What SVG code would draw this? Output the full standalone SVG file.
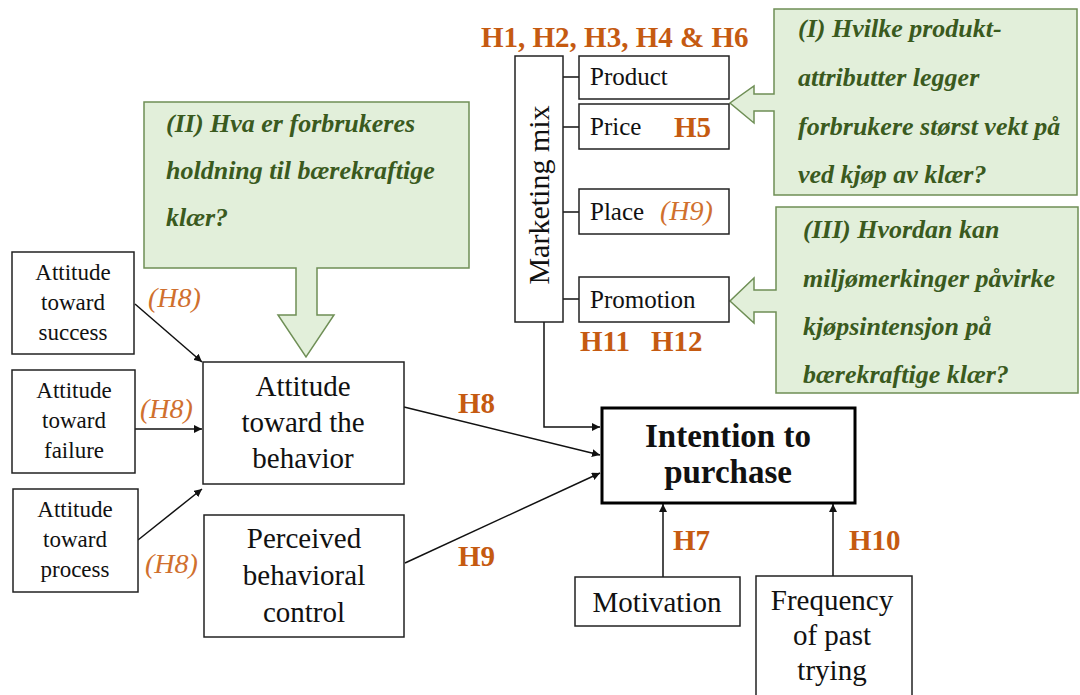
<svg xmlns="http://www.w3.org/2000/svg" width="1080" height="695" viewBox="0 0 1080 695">
<defs>
<marker id="ah" viewBox="0 0 10 10" refX="10" refY="5" markerWidth="8" markerHeight="8" markerUnits="userSpaceOnUse" orient="auto">
<path d="M0,0 L10,5 L0,10 z" fill="#111"/>
</marker>
</defs>
<style>
.box{fill:#fff;stroke:#222;stroke-width:1.5}
.green{fill:#E2EFDA;stroke:#6F8F56;stroke-width:1.5}
.t{font-family:"Liberation Serif","Times New Roman",serif;fill:#111}
.c{text-anchor:middle}
.q{font-family:"Liberation Serif","Times New Roman",serif;font-weight:bold;font-style:italic;font-size:26px;fill:#3A5A1E}
.hb{font-family:"Liberation Serif","Times New Roman",serif;font-weight:bold;font-size:29px;fill:#C55A11}
.hi{font-family:"Liberation Serif","Times New Roman",serif;font-style:italic;font-size:28px;fill:#D0702E}
.ln{stroke:#111;stroke-width:1.5;fill:none}
.arr{stroke:#111;stroke-width:1.5;fill:none;marker-end:url(#ah)}
</style>

<g id="connectors">
<line class="ln" x1="563" y1="77" x2="579" y2="77"/>
<line class="ln" x1="563" y1="127" x2="579" y2="127"/>
<line class="ln" x1="563" y1="212" x2="579" y2="212"/>
<line class="ln" x1="563" y1="299" x2="579" y2="299"/>
<polyline class="arr" points="544,322 544,427 600,427"/>
<line class="arr" x1="135" y1="304" x2="202" y2="362"/>
<line class="arr" x1="135" y1="429" x2="202" y2="429"/>
<line class="arr" x1="138" y1="540" x2="202" y2="489"/>
<line class="arr" x1="404" y1="407" x2="600" y2="455"/>
<line class="arr" x1="405" y1="563" x2="600" y2="473"/>
<line class="arr" x1="663" y1="577" x2="663" y2="504"/>
<line class="arr" x1="833" y1="576" x2="833" y2="504"/>
</g>

<g id="q1">
<path class="green" d="M774,9 H1077 V195 H774 V111 H754 V123 L730,103 L754,86 V94 H774 Z"/>
<text class="q" x="798" y="37">(I) Hvilke produkt-</text>
<text class="q" x="798" y="86">attributter legger</text>
<text class="q" x="798" y="135">forbrukere størst vekt på</text>
<text class="q" x="798" y="183">ved kjøp av klær?</text>
</g>

<g id="q2">
<path class="green" d="M144,102 H469 V268 H317 V315 H334 L306,357 L278,315 H296 V268 H144 Z"/>
<text class="q" x="166" y="132">(II) Hva er forbrukeres</text>
<text class="q" x="166" y="179">holdning til bærekraftige</text>
<text class="q" x="166" y="226">klær?</text>
</g>

<g id="q3">
<path class="green" d="M776,207 H1078 V393 H776 V312 H754 V323 L730,301 L754,278 V290 H776 Z"/>
<text class="q" x="803" y="238">(III) Hvordan kan</text>
<text class="q" x="803" y="287">miljømerkinger påvirke</text>
<text class="q" x="803" y="335">kjøpsintensjon på</text>
<text class="q" x="803" y="383">bærekraftige klær?</text>
</g>

<g id="h-top"><text class="hb" x="481" y="47" font-size="30">H1, H2, H3, H4 &amp; H6</text></g>

<g id="marketing-mix">
<rect class="box" x="515" y="56" width="48" height="266"/>
<text class="t c" x="549" y="195" font-size="30" transform="rotate(-90 549 195)">Marketing mix</text>
</g>

<g id="product">
<rect class="box" x="579" y="56" width="150" height="43"/>
<text class="t" x="590" y="85" font-size="25">Product</text>
</g>
<g id="price">
<rect class="box" x="579" y="104" width="150" height="45"/>
<text class="t" x="590" y="135" font-size="25">Price</text>
<text class="hb" x="674" y="137">H5</text>
</g>
<g id="place">
<rect class="box" x="579" y="189" width="150" height="45"/>
<text class="t" x="590" y="220" font-size="25">Place</text>
<text class="hi" x="660" y="220">(H9)</text>
</g>
<g id="promotion">
<rect class="box" x="579" y="277" width="150" height="45"/>
<text class="t" x="590" y="308" font-size="25">Promotion</text>
</g>
<g id="h-promo">
<text class="hb" x="580" y="351">H11</text>
<text class="hb" x="651" y="351">H12</text>
</g>

<g id="att-success">
<rect class="box" x="12" y="252" width="122" height="102"/>
<text class="t c" x="73" y="280" font-size="23">Attitude</text>
<text class="t c" x="73" y="310" font-size="23">toward</text>
<text class="t c" x="73" y="340" font-size="23">success</text>
</g>
<g id="att-failure">
<rect class="box" x="12" y="370" width="123" height="103"/>
<text class="t c" x="74" y="398" font-size="23">Attitude</text>
<text class="t c" x="74" y="428" font-size="23">toward</text>
<text class="t c" x="74" y="458" font-size="23">failure</text>
</g>
<g id="att-process">
<rect class="box" x="13" y="489" width="125" height="103"/>
<text class="t c" x="75" y="517" font-size="23">Attitude</text>
<text class="t c" x="75" y="547" font-size="23">toward</text>
<text class="t c" x="75" y="577" font-size="23">process</text>
</g>
<g id="h8-labels">
<text class="hi" x="148" y="307">(H8)</text>
<text class="hi" x="140" y="418">(H8)</text>
<text class="hi" x="145" y="573">(H8)</text>
</g>

<g id="att-behavior">
<rect class="box" x="203" y="362" width="201" height="122"/>
<text class="t c" x="303" y="396" font-size="29">Attitude</text>
<text class="t c" x="303" y="432" font-size="29">toward the</text>
<text class="t c" x="303" y="468" font-size="29">behavior</text>
</g>
<g id="pbc">
<rect class="box" x="204" y="515" width="200" height="122"/>
<text class="t c" x="304" y="548" font-size="29">Perceived</text>
<text class="t c" x="304" y="585" font-size="29">behavioral</text>
<text class="t c" x="304" y="622" font-size="29">control</text>
</g>
<g id="h8h9">
<text class="hb" x="458" y="413">H8</text>
<text class="hb" x="458" y="566">H9</text>
</g>

<g id="intention">
<rect x="602" y="408" width="253" height="95" fill="#fff" stroke="#000" stroke-width="3"/>
<text class="t c" x="728" y="447" font-size="33" font-weight="bold" fill="#000">Intention to</text>
<text class="t c" x="728" y="483" font-size="33" font-weight="bold" fill="#000">purchase</text>
</g>

<g id="h7h10">
<text class="hb" x="673" y="550">H7</text>
<text class="hb" x="849" y="550">H10</text>
</g>

<g id="motivation">
<rect class="box" x="575" y="577" width="165" height="49"/>
<text class="t c" x="657" y="612" font-size="29">Motivation</text>
</g>
<g id="frequency">
<rect class="box" x="756" y="576" width="156" height="125"/>
<text class="t c" x="832" y="610" font-size="29">Frequency</text>
<text class="t c" x="832" y="645" font-size="29">of past</text>
<text class="t c" x="832" y="680" font-size="29">trying</text>
</g>
</svg>
